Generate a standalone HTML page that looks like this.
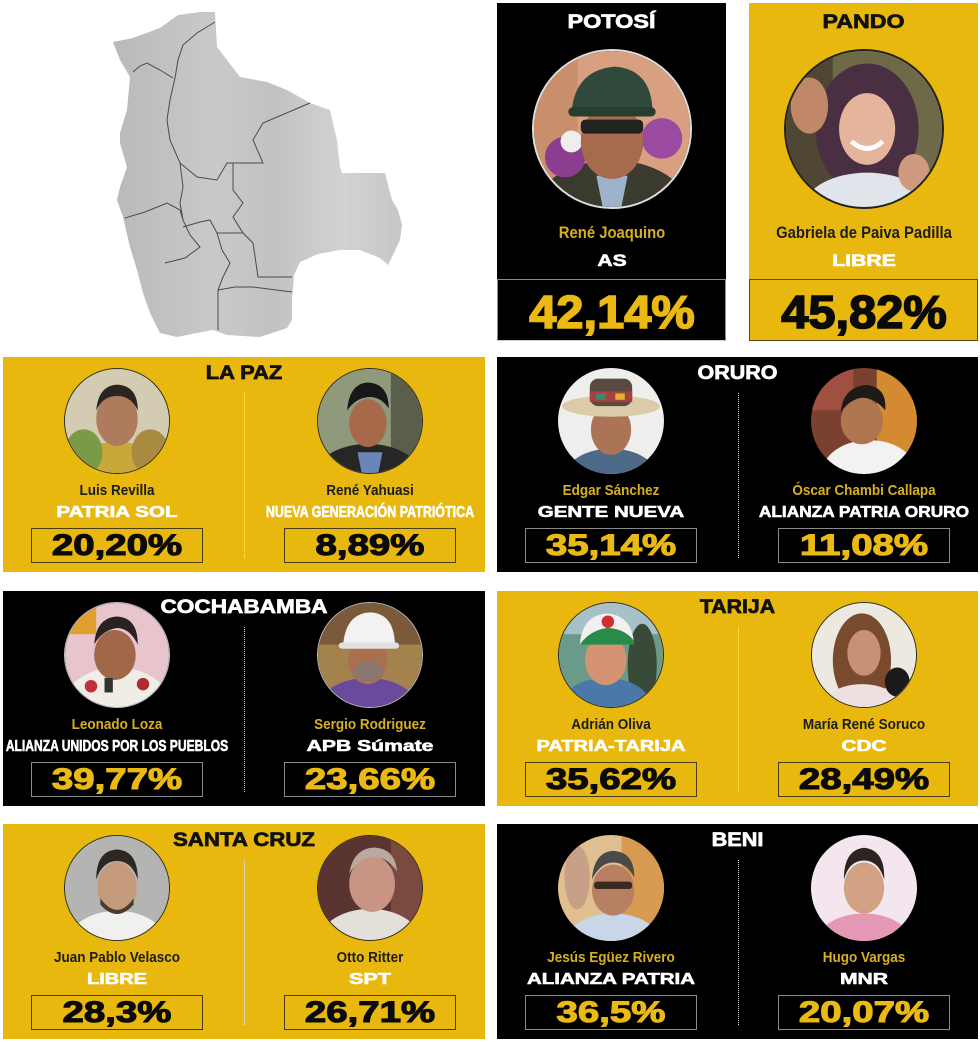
<!DOCTYPE html>
<html>
<head>
<meta charset="utf-8">
<style>
*{margin:0;padding:0}
html,body{width:980px;height:1042px;background:#fff;overflow:hidden}
body{position:relative;font-family:"Liberation Sans",Arial,sans-serif}
.p{position:absolute;width:482px;height:215px}
.y{background:#E8B80E}
.k{background:#000}
.t{position:absolute;left:0;width:100%;top:7px;font-weight:bold;font-size:19px;line-height:19px;text-align:center;white-space:nowrap;-webkit-text-stroke:0.7px currentColor}
.y .t{color:#111}
.k .t{color:#fff}
.ph{position:absolute;top:11px;width:106px;height:106px;border-radius:50%;overflow:hidden;box-sizing:border-box}
.ph svg{display:block;width:100%;height:100%}
.y .ph{border:1.5px solid #2a2a2a}
.k .ph{border:1px solid #bbb}
.phL{left:61px}.phR{left:314px}
.nm,.pt,.pc{position:absolute;width:320px;text-align:center;white-space:nowrap;font-weight:bold}
.L{left:-46px}.R{left:207px}
.nm{top:126px;font-size:15px;line-height:15px;transform:scaleX(.9)}
.y .nm{color:#1c1c1c}
.k .nm{color:#D6B020}
.pt{top:148px;font-size:16px;line-height:16px;color:#fff;-webkit-text-stroke:0.6px #fff}
.pc{top:174px;font-size:30px;line-height:30px;transform:scaleX(1.28);-webkit-text-stroke:1.1px currentColor}
.y .pc{color:#0a0a0a}
.k .pc{color:#EBB914}
.bx{position:absolute;top:171px;width:172px;height:35px;box-sizing:border-box}
.y .bx{border:1px solid #4a3c12}
.k .bx{border:1px solid #8a8a8a}
.bxL{left:28px}.bxR{left:281px}
.dl{position:absolute;left:241px;top:36px;height:165px;width:0}
.y .dl{border-left:1.5px dotted #f6ecc4}
.k .dl{border-left:1.5px dotted #e0e0e0}
.tp{position:absolute;top:3px;width:229px;height:338px}
.tp .t{top:9.5px;font-size:19.5px;line-height:19.5px}
.tp .ph{top:46px;left:34.5px;width:160px;height:160px}
.tp .nm,.tp .pt,.tp .pc{left:-45.5px}
.tp .nm{top:222px;font-size:16.5px;line-height:16.5px}
.tp .pt{top:249px;font-size:17px;line-height:17px}
.tp .bx{top:276px;left:0;width:229px;height:62px}
.tp .pc{top:286px;font-size:46px;line-height:46px;transform:scaleX(1.06);-webkit-text-stroke:1.6px currentColor}
.k.tp .ph{border:2px solid #ddd}
.y.tp .ph{border:2px solid #222}
</style>
</head>
<body>

<!-- MAP -->
<svg style="position:absolute;left:0;top:0" width="420" height="350" viewBox="0 0 420 350">
<defs>
<linearGradient id="mg" x1="0" y1="0" x2="1" y2="0">
<stop offset="0" stop-color="#b9b9b9"/>
<stop offset="0.35" stop-color="#c9c9c9"/>
<stop offset="0.55" stop-color="#c2c2c2"/>
<stop offset="0.8" stop-color="#d2d2d2"/>
<stop offset="1" stop-color="#c6c6c6"/>
</linearGradient>
</defs>
<polygon fill="url(#mg)" points="113,42 133,38 160,28 178,15 200,12 215,12 217,47 227,60 240,77 267,82 287,90 310,103 330,110 333,123 337,140 340,167 342,173 385,173 388,185 392,200 398,210 402,225 400,240 393,255 388,265 380,258 360,250 340,250 318,254 300,262 294,275 292,300 292,320 287,328 260,337 227,335 213,330 197,333 177,337 160,333 150,313 143,293 137,270 130,247 123,217 117,200 120,187 127,167 120,143 120,133 127,110 130,77 120,60"/>
<g fill="none" stroke="#4a4a4a" stroke-width="1">
<polyline points="133,72 140,66 147,63 160,70 173,78"/>
<polyline points="215,22 197,33 183,45 178,60 175,78 170,100 167,120 170,140 180,163 197,177 217,180 227,163 263,163 253,140 263,123 310,103"/>
<polyline points="180,163 183,187 180,203 183,220"/>
<polyline points="233,163 233,190 243,203 233,217 243,233 253,243 258,277 292,277"/>
<polyline points="125,218 145,212 167,203 180,210 183,220"/>
<polyline points="183,220 190,235 200,247 185,258 165,263"/>
<polyline points="183,227 200,222 210,220 217,233 243,233"/>
<polyline points="217,233 222,250 230,263 223,277 218,290 218,310 218,330"/>
<polyline points="218,290 235,287 253,287 292,292"/>
</g>
</svg>

<!-- POTOSI -->
<div class="tp k" style="left:497px">
<div class="t" style="transform:scaleX(1.2)">POTOSÍ</div>
<div class="ph"><svg viewBox="0 0 100 100" preserveAspectRatio="none">
<rect width="100" height="100" fill="#d8a080"/>
<rect width="28" height="100" fill="#c98e6c"/>
<ellipse cx="50" cy="100" rx="48" ry="30" fill="#3a3a2e"/>
<polygon points="40,80 60,80 56,100 44,100" fill="#9db3cc"/>
<circle cx="20" cy="68" r="13" fill="#8b3d8f"/>
<circle cx="82" cy="56" r="13" fill="#9a4aa0"/>
<circle cx="24" cy="58" r="7" fill="#eee"/>
<ellipse cx="50" cy="58" rx="20" ry="24" fill="#a66a4c"/>
<rect x="30" y="44" width="40" height="9" rx="3" fill="#222"/>
<path d="M24,40 Q26,12 52,10 Q76,12 76,40 Z" fill="#2f4a3a"/>
<rect x="22" y="36" width="56" height="6" rx="3" fill="#263d30"/>
</svg></div>
<div class="nm" style="color:#D6B020">René Joaquino</div>
<div class="pt" style="transform:scaleX(1.24)">AS</div>
<div class="bx" style="border:1px solid #8a8a8a;border-bottom-color:#ccc"></div>
<div class="pc">42,14%</div>
</div>

<!-- PANDO -->
<div class="tp y" style="left:749px">
<div class="t" style="transform:scaleX(1.19)">PANDO</div>
<div class="ph"><svg viewBox="0 0 100 100" preserveAspectRatio="none">
<rect width="100" height="100" fill="#6e6a48"/>
<rect width="30" height="100" fill="#4f4634"/>
<ellipse cx="52" cy="50" rx="33" ry="42" fill="#4a2f42"/>
<ellipse cx="52" cy="100" rx="40" ry="22" fill="#dfe5ea"/>
<ellipse cx="52" cy="50" rx="18" ry="23" fill="#e4b49c"/>
<ellipse cx="15" cy="35" rx="12" ry="18" fill="#c08868"/>
<ellipse cx="82" cy="78" rx="10" ry="12" fill="#d09a80"/>
<path d="M42,58 Q52,67 62,58" stroke="#fff" stroke-width="3" fill="none"/>
</svg></div>
<div class="nm" style="color:#1c1c1c">Gabriela de Paiva Padilla</div>
<div class="pt" style="transform:scaleX(1.25)">LIBRE</div>
<div class="bx" style="border:1px solid #5a4a18"></div>
<div class="pc">45,82%</div>
</div>

<!-- LA PAZ -->
<div class="p y" style="left:3px;top:357px">
<div class="t" style="transform:scaleX(1.15)">LA PAZ</div>
<div class="dl"></div>
<div class="ph phL"><svg viewBox="0 0 100 100" preserveAspectRatio="none">
<rect width="100" height="100" fill="#d4ccb2"/>
<ellipse cx="50" cy="102" rx="50" ry="32" fill="#c8a838"/>
<ellipse cx="18" cy="80" rx="18" ry="22" fill="#7a9a48"/>
<ellipse cx="82" cy="80" rx="18" ry="22" fill="#a88a40"/>
<ellipse cx="50" cy="48" rx="20" ry="26" fill="#ae7c5c"/>
<path d="M30,40 Q32,16 50,15 Q70,16 70,40 Q64,26 50,26 Q36,26 30,40Z" fill="#2b2522"/>
</svg></div>
<div class="ph phR"><svg viewBox="0 0 100 100" preserveAspectRatio="none">
<rect width="100" height="100" fill="#8f9a7c"/>
<rect x="70" width="30" height="100" fill="#5a5e4a"/>
<ellipse cx="48" cy="102" rx="50" ry="30" fill="#262626"/>
<polygon points="38,80 62,80 58,100 42,100" fill="#6a86b8"/>
<ellipse cx="48" cy="52" rx="18" ry="23" fill="#a66a4a"/>
<path d="M28,40 Q30,14 48,13 Q68,14 68,38 Q60,26 48,27 Q36,28 28,40Z" fill="#181818"/>
</svg></div>
<div class="nm L">Luis Revilla</div>
<div class="nm R">René Yahuasi</div>
<div class="pt L" style="transform:scaleX(1.29)">PATRIA SOL</div>
<div class="pt R" style="transform:scaleX(.78)">NUEVA GENERACIÓN PATRIÓTICA</div>
<div class="bx bxL"></div><div class="bx bxR"></div>
<div class="pc L">20,20%</div>
<div class="pc R">8,89%</div>
</div>

<!-- ORURO -->
<div class="p k" style="left:497px;top:357px;width:481px">
<div class="t" style="transform:scaleX(1.13)">ORURO</div>
<div class="dl"></div>
<div class="ph phL" style="border:none"><svg viewBox="0 0 100 100" preserveAspectRatio="none">
<rect width="100" height="100" fill="#eeeeec"/>
<ellipse cx="50" cy="104" rx="44" ry="28" fill="#4c6a88"/>
<ellipse cx="50" cy="58" rx="19" ry="24" fill="#ab7456"/>
<ellipse cx="50" cy="36" rx="46" ry="10" fill="#dccba8"/>
<rect x="30" y="10" width="40" height="26" rx="8" fill="#5a4a40"/>
<rect x="30" y="22" width="40" height="10" fill="#a84040"/>
<rect x="36" y="24" width="9" height="6" fill="#3a8a6a"/>
<rect x="54" y="24" width="9" height="6" fill="#e0b030"/>
</svg></div>
<div class="ph phR" style="border:none"><svg viewBox="0 0 100 100" preserveAspectRatio="none">
<rect width="100" height="100" fill="#7a4030"/>
<rect x="62" width="38" height="100" fill="#d48a30"/>
<rect width="40" height="40" fill="#a05040"/>
<ellipse cx="55" cy="100" rx="45" ry="32" fill="#f2f2f2"/>
<ellipse cx="48" cy="50" rx="20" ry="22" fill="#b07650"/>
<path d="M28,42 Q30,18 52,16 Q72,18 70,40 Q60,28 48,28 Q36,30 28,42Z" fill="#1e1a18"/>
</svg></div>
<div class="nm L">Edgar Sánchez</div>
<div class="nm R">Óscar Chambi Callapa</div>
<div class="pt L" style="transform:scaleX(1.28)">GENTE NUEVA</div>
<div class="pt R" style="transform:scaleX(1.08)">ALIANZA PATRIA ORURO</div>
<div class="bx bxL"></div><div class="bx bxR"></div>
<div class="pc L">35,14%</div>
<div class="pc R">11,08%</div>
</div>

<!-- COCHABAMBA -->
<div class="p k" style="left:3px;top:591px">
<div class="t" style="transform:scaleX(1.19)">COCHABAMBA</div>
<div class="dl"></div>
<div class="ph phL"><svg viewBox="0 0 100 100" preserveAspectRatio="none">
<rect width="100" height="100" fill="#e8c4cc"/>
<rect width="30" height="30" fill="#e0a030"/>
<ellipse cx="50" cy="96" rx="50" ry="34" fill="#f0ece6"/>
<circle cx="25" cy="80" r="6" fill="#c0303a"/>
<circle cx="75" cy="78" r="6" fill="#b02a30"/>
<ellipse cx="48" cy="50" rx="20" ry="24" fill="#a06848"/>
<path d="M28,40 Q30,14 50,13 Q70,14 70,40 Q62,24 50,24 Q36,26 28,40Z" fill="#2a2220"/>
<rect x="38" y="72" width="8" height="14" fill="#333"/>
</svg></div>
<div class="ph phR"><svg viewBox="0 0 100 100" preserveAspectRatio="none">
<rect width="100" height="100" fill="#a4824e"/>
<rect width="100" height="40" fill="#7a5a3a"/>
<ellipse cx="48" cy="102" rx="48" ry="30" fill="#6a4a9c"/>
<ellipse cx="48" cy="55" rx="19" ry="23" fill="#a87050"/>
<ellipse cx="48" cy="66" rx="14" ry="10" fill="#8a7870"/>
<path d="M24,42 Q26,10 50,9 Q74,10 74,42 Z" fill="#f2f2f2"/>
<rect x="20" y="38" width="58" height="6" rx="3" fill="#e0e0e0"/>
</svg></div>
<div class="nm L">Leonado Loza</div>
<div class="nm R">Sergio Rodriguez</div>
<div class="pt L" style="transform:scaleX(.755)">ALIANZA UNIDOS POR LOS PUEBLOS</div>
<div class="pt R" style="transform:scaleX(1.32)">APB Súmate</div>
<div class="bx bxL"></div><div class="bx bxR"></div>
<div class="pc L">39,77%</div>
<div class="pc R">23,66%</div>
</div>

<!-- TARIJA -->
<div class="p y" style="left:497px;top:591px;width:481px">
<div class="t" style="transform:scaleX(1.12)">TARIJA</div>
<div class="dl"></div>
<div class="ph phL"><svg viewBox="0 0 100 100" preserveAspectRatio="none">
<rect width="100" height="100" fill="#6a9a8a"/>
<rect width="100" height="30" fill="#a8c0c8"/>
<ellipse cx="80" cy="60" rx="14" ry="40" fill="#3a4a38"/>
<ellipse cx="45" cy="102" rx="45" ry="30" fill="#4a78a8"/>
<ellipse cx="45" cy="55" rx="20" ry="24" fill="#d49474"/>
<path d="M20,40 Q22,12 46,10 Q70,12 72,38 Z" fill="#f0f0f0"/>
<path d="M20,40 Q30,26 46,24 Q62,24 72,36 L72,40 Z" fill="#2a8a4a"/>
<circle cx="47" cy="18" r="6" fill="#d03030"/>
</svg></div>
<div class="ph phR"><svg viewBox="0 0 100 100" preserveAspectRatio="none">
<rect width="100" height="100" fill="#ebe9e0"/>
<ellipse cx="48" cy="55" rx="28" ry="45" fill="#7a4a2e"/>
<ellipse cx="48" cy="104" rx="40" ry="26" fill="#ece0e0"/>
<ellipse cx="50" cy="48" rx="16" ry="22" fill="#c99078"/>
<ellipse cx="82" cy="76" rx="12" ry="14" fill="#1a1a1a"/>
</svg></div>
<div class="nm L">Adrián Oliva</div>
<div class="nm R">María René Soruco</div>
<div class="pt L" style="transform:scaleX(1.25)">PATRIA-TARIJA</div>
<div class="pt R" style="transform:scaleX(1.3)">CDC</div>
<div class="bx bxL"></div><div class="bx bxR"></div>
<div class="pc L">35,62%</div>
<div class="pc R">28,49%</div>
</div>

<!-- SANTA CRUZ -->
<div class="p y" style="left:3px;top:824px">
<div class="t" style="transform:scaleX(1.17)">SANTA CRUZ</div>
<div class="dl"></div>
<div class="ph phL"><svg viewBox="0 0 100 100" preserveAspectRatio="none">
<rect width="100" height="100" fill="#b4b4b2"/>
<ellipse cx="50" cy="104" rx="48" ry="32" fill="#f0f0ee"/>
<ellipse cx="50" cy="50" rx="19" ry="25" fill="#c69a7c"/>
<path d="M34,60 Q50,82 66,60 L66,66 Q50,84 34,66Z" fill="#4a3a30"/>
<path d="M30,42 Q30,14 50,13 Q70,14 70,42 Q64,24 50,24 Q36,24 30,42Z" fill="#2e2620"/>
</svg></div>
<div class="ph phR"><svg viewBox="0 0 100 100" preserveAspectRatio="none">
<rect width="100" height="100" fill="#5a3430"/>
<rect x="70" width="30" height="100" fill="#7a4a40"/>
<ellipse cx="50" cy="104" rx="50" ry="34" fill="#e2e0d8"/>
<ellipse cx="52" cy="46" rx="22" ry="27" fill="#c89484"/>
<path d="M30,36 Q34,12 54,11 Q74,12 76,34 Q66,20 54,20 Q40,20 30,36Z" fill="#b8aaa0"/>
</svg></div>
<div class="nm L">Juan Pablo Velasco</div>
<div class="nm R">Otto Ritter</div>
<div class="pt L" style="transform:scaleX(1.25)">LIBRE</div>
<div class="pt R" style="transform:scaleX(1.35)">SPT</div>
<div class="bx bxL"></div><div class="bx bxR"></div>
<div class="pc L">28,3%</div>
<div class="pc R">26,71%</div>
</div>

<!-- BENI -->
<div class="p k" style="left:497px;top:824px;width:481px">
<div class="t" style="transform:scaleX(1.14)">BENI</div>
<div class="dl"></div>
<div class="ph phL" style="border:none"><svg viewBox="0 0 100 100" preserveAspectRatio="none">
<rect width="100" height="100" fill="#e0c090"/>
<rect x="60" width="40" height="100" fill="#d89a50"/>
<ellipse cx="18" cy="40" rx="12" ry="30" fill="#c8a088"/>
<ellipse cx="52" cy="104" rx="46" ry="30" fill="#c8d6e8"/>
<ellipse cx="52" cy="52" rx="20" ry="24" fill="#b88062"/>
<rect x="34" y="44" width="36" height="7" rx="3" fill="#3a2a20"/>
<path d="M32,42 Q34,16 52,15 Q72,16 72,40 Q64,26 52,26 Q40,26 32,42Z" fill="#4a4a48"/>
</svg></div>
<div class="ph phR" style="border:none"><svg viewBox="0 0 100 100" preserveAspectRatio="none">
<rect width="100" height="100" fill="#f3e6ee"/>
<ellipse cx="50" cy="104" rx="46" ry="30" fill="#e498b6"/>
<ellipse cx="50" cy="50" rx="19" ry="24" fill="#d3a285"/>
<path d="M31,42 Q31,14 50,12 Q70,14 69,42 Q64,24 50,24 Q36,24 31,42Z" fill="#2c2420"/>
</svg></div>
<div class="nm L">Jesús Egüez Rivero</div>
<div class="nm R">Hugo Vargas</div>
<div class="pt L" style="transform:scaleX(1.28)">ALIANZA PATRIA</div>
<div class="pt R" style="transform:scaleX(1.32)">MNR</div>
<div class="bx bxL"></div><div class="bx bxR"></div>
<div class="pc L">36,5%</div>
<div class="pc R">20,07%</div>
</div>

</body>
</html>
